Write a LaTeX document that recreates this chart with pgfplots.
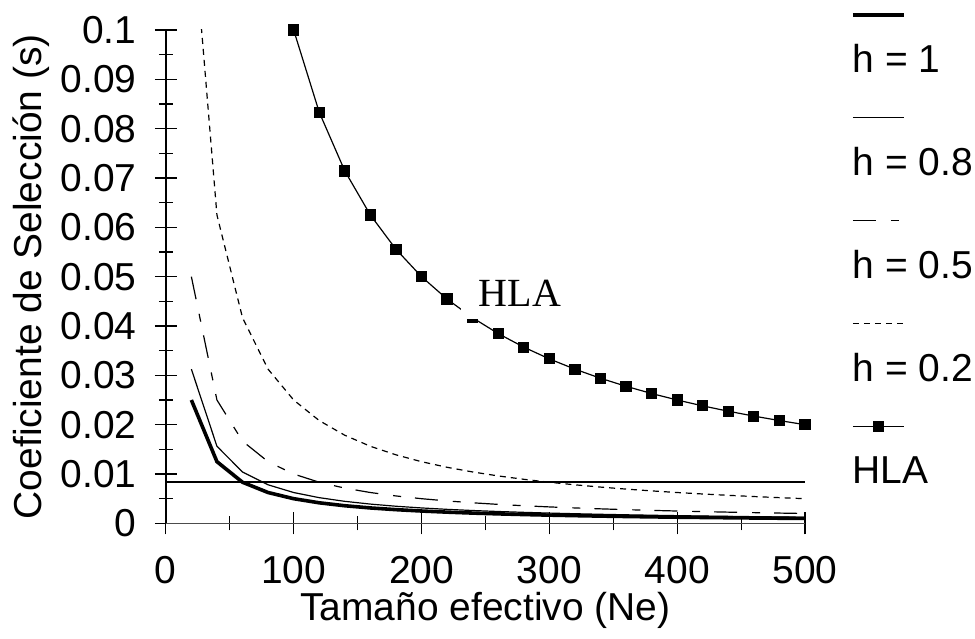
\documentclass[border=0pt]{standalone}
\usepackage{fontspec}
\setmainfont{Liberation Sans}
\newfontfamily\seriffont{Liberation Serif}
\usepackage{pgfplots}
\usepackage{pgfplotstable}
\pgfplotsset{compat=1.18}

\pgfplotstableread{
Ne h1 h08 h05 h02
20 0.025 0.03125 0.05 0.125
40 0.0125 0.015625 0.025 0.0625
60 0.008333 0.010417 0.016667 0.041667
80 0.00625 0.0078125 0.0125 0.03125
100 0.005 0.00625 0.01 0.025
120 0.004167 0.005208 0.008333 0.020833
140 0.003571 0.004464 0.007143 0.017857
160 0.003125 0.003906 0.00625 0.015625
180 0.002778 0.003472 0.005556 0.013889
200 0.0025 0.003125 0.005 0.0125
220 0.002273 0.002841 0.004545 0.011364
240 0.002083 0.002604 0.004167 0.010417
260 0.001923 0.002404 0.003846 0.009615
280 0.001786 0.002232 0.003571 0.008929
300 0.001667 0.002083 0.003333 0.008333
320 0.001563 0.001953 0.003125 0.007813
340 0.001471 0.001838 0.002941 0.007353
360 0.001389 0.001736 0.002778 0.006944
380 0.001316 0.001645 0.002632 0.006579
400 0.00125 0.001563 0.0025 0.00625
420 0.00119 0.001488 0.002381 0.005952
440 0.001136 0.00142 0.002273 0.005682
460 0.001087 0.001359 0.002174 0.005435
480 0.001042 0.001302 0.002083 0.005208
500 0.001 0.00125 0.002 0.005
}\curves

\pgfplotstableread{
Ne s
100 0.1
120 0.083333
140 0.071429
160 0.0625
180 0.055556
200 0.05
220 0.045455
240 0.041667
260 0.038462
280 0.035714
300 0.033333
320 0.03125
340 0.029412
360 0.027778
380 0.026316
400 0.025
420 0.02381
440 0.022727
460 0.021739
480 0.020833
500 0.02
}\hla

\newcommand\bigfont{\fontsize{19.5}{23.4}\selectfont}

\pgfplotsset{
  legline/.style={legend image code/.code={
    \draw[##1] (0pt,0pt) -- (25.5pt,0pt);
    \node[anchor=west, inner sep=0pt, font=\bigfont, text=black, draw=none, fill=none] at (0pt,-22.5pt) {#1};
    \path[draw=none, fill=none] (0pt,5pt) rectangle (1pt,-46.5pt);
  }},
  legmark/.style={legend image code/.code={
    \draw[mark repeat=2, mark phase=2, ##1] plot coordinates {(0pt,0pt) (12.75pt,0pt) (25.5pt,0pt)};
    \node[anchor=west, inner sep=0pt, font=\bigfont, text=black, draw=none, fill=none] at (0pt,-22.5pt) {#1};
    \path[draw=none, fill=none] (0pt,5pt) rectangle (1pt,-46.5pt);
  }},
}

\begin{document}
\begin{tikzpicture}
\begin{axis}[name=ax, scale only axis, width=320pt, height=247pt,
  set layers,
  xmin=0, xmax=500, ymin=0, ymax=0.1,
  axis x line=bottom, axis y line=left,
  axis line style={-, line width=0.7pt},
  x axis line style={-, black!70},
  y axis line style={-, black},
  xtick={0,100,200,300,400,500},
  ytick={0,0.01,0.02,0.03,0.04,0.05,0.06,0.07,0.08,0.09,0.1},
  minor x tick num=1, minor y tick num=1,
  scaled y ticks=false, scaled x ticks=false,
  tick align=center, major tick length=11pt, minor tick length=7pt,
  tick style={black, line width=0.6pt},
  ticklabel style={font=\bigfont, inner sep=0pt},
  /pgf/number format/assume math mode=true,
  y tick label style={/pgf/number format/fixed, /pgf/number format/precision=2},
  yticklabel style={anchor=east},
  xticklabel style={anchor=north},
  yticklabel shift=9pt,
  xticklabel shift=11pt,
  xlabel={Tamaño efectivo (Ne)},
  ylabel={Coeficiente de Selección (s)},
  label style={font=\bigfont, inner sep=0pt},
  xlabel style={at={(axis description cs:0.5,-0.1397)}, anchor=north},
  ylabel style={at={(axis description cs:-0.18125,0.5)}, anchor=south},
  legend style={at={(1.0719,1.0506)}, anchor=north west, draw=none, fill=none,
    inner sep=0pt, outer sep=0pt, row sep=0pt, column sep=0pt, nodes={inner sep=0pt}},
  clip=true,
]
\addplot[black, line width=1.8pt, legline={h = 1}] table[x=Ne, y=h1] {\curves};
\addlegendentry{}
\addplot[black, line width=0.6pt, legline={h = 0.8}] table[x=Ne, y=h08] {\curves};
\addlegendentry{}
\addplot[black, line width=0.6pt, dash pattern=on 11.5pt off 7.5pt on 4pt off 7pt, legline={h = 0.5}] table[x=Ne, y=h05] {\curves};
\addlegendentry{}
\addplot[black, line width=0.6pt, dash pattern=on 3pt off 2.5pt, legline={h = 0.2}] table[x=Ne, y=h02] {\curves};
\addlegendentry{}
\addplot[black, line width=0.6pt, mark=square*, mark size=2.5pt, mark options={solid}, legmark={HLA}] table[x=Ne, y=s] {\hla};
\addlegendentry{}
\addplot[black, line width=0.6pt, forget plot] coordinates {(0,0.0084) (500,0.0084)};
\begin{pgfonlayer}{axis foreground}
\node[font=\seriffont\fontsize{20}{24}\selectfont, fill=white, inner xsep=9pt, inner ysep=6.5pt, text depth=0pt] at (axis cs:277,0.0467) {HLA};
\end{pgfonlayer}
\end{axis}
\path ([xshift=-83pt,yshift=-57.5pt]ax.south west) rectangle ([xshift=84.5pt,yshift=15pt]ax.north east);
\end{tikzpicture}
\end{document}
